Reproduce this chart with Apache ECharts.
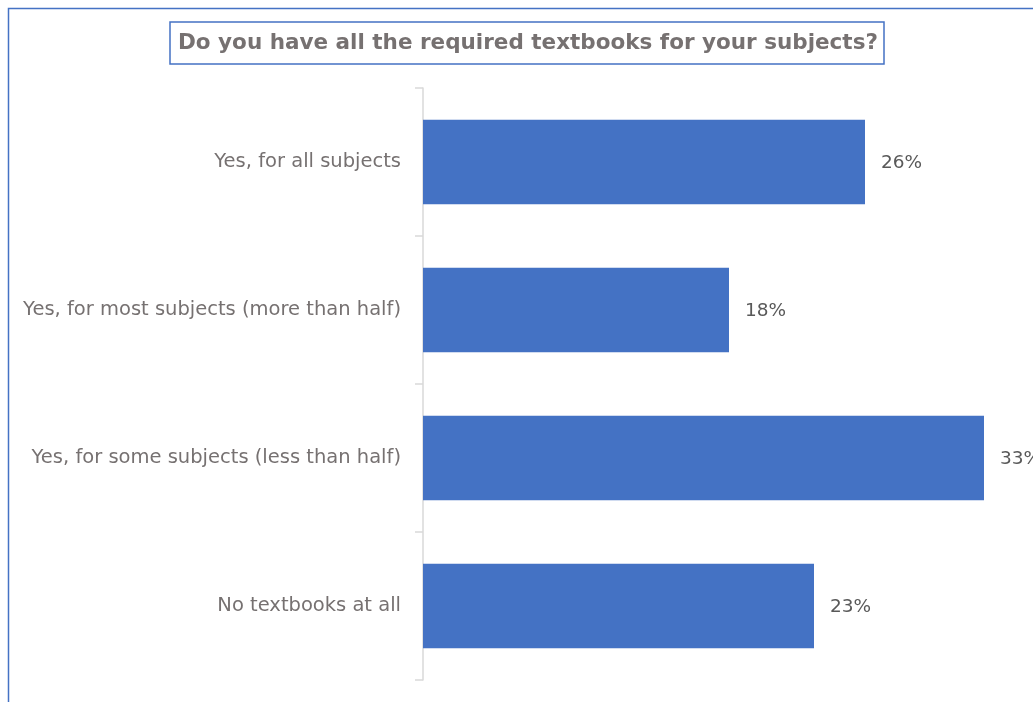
<!DOCTYPE html>
<html>
<head>
<meta charset="utf-8">
<script src="https://cdn.jsdelivr.net/npm/echarts@6/dist/echarts.min.js"></script>
<style>
  html, body { margin: 0; padding: 0; background: #fff; }
  #chart { width: 1033px; height: 702px; }
</style>
</head>
<body>
<div id="chart"></div>
<script>
// Survey answers, top to bottom
const categories = [
  'Yes, for all subjects',
  'Yes, for most subjects (more than half)',
  'Yes, for some subjects (less than half)',
  'No textbooks at all'
];
// Share of respondents, percent
const shares = [26, 18, 33, 23];
const titleText = 'Do you have all the required textbooks for your subjects?';

const chart = echarts.init(document.getElementById('chart'), null, { renderer: 'canvas' });

chart.setOption({
  backgroundColor: '#ffffff',
  animation: false,
  title: {
    text: titleText,
    left: 170,
    top: 22,
    padding: [10, 6, 10, 8],
    borderColor: '#4472c4',
    borderWidth: 1.5,
    textStyle: {
      fontFamily: 'DejaVu Sans, sans-serif',
      fontWeight: 'bold',
      fontSize: 21.5,
      color: '#767171'
    }
  },
  graphic: [{
    type: 'rect',
    shape: { x: 8.5, y: 8.5, width: 1100, height: 800 },
    style: { fill: 'none', stroke: '#4472c4', lineWidth: 1.5 },
    silent: true
  }],
  grid: { left: 423, right: 15, top: 88, bottom: 22, containLabel: false },
  xAxis: {
    type: 'value',
    min: 0,
    max: 35,
    show: false
  },
  yAxis: {
    type: 'category',
    inverse: true,
    data: categories,
    axisLine: { show: true, lineStyle: { color: '#d9d9d9', width: 1.5 } },
    axisTick: { show: true, length: 8, lineStyle: { color: '#d9d9d9', width: 1.5 } },
    axisLabel: {
      margin: 22,
      fontFamily: 'DejaVu Sans, sans-serif',
      fontSize: 19.5,
      color: '#767171'
    },
    splitLine: { show: false }
  },
  series: [{
    type: 'bar',
    data: shares,
    barWidth: '57%',
    itemStyle: { color: '#4472c4' },
    label: {
      show: true,
      position: 'right',
      distance: 16,
      offset: [0, 1],
      formatter: p => p.value + '%',
      fontFamily: 'DejaVu Sans, sans-serif',
      fontSize: 18.5,
      color: '#595959'
    }
  }]
});
</script>
</body>
</html>
